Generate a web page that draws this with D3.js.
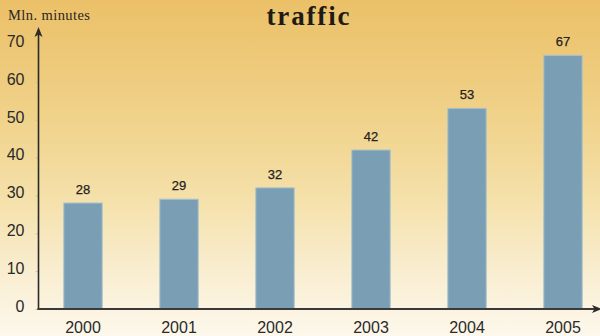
<!DOCTYPE html>
<html>
<head>
<meta charset="utf-8">
<script src="https://cdn.jsdelivr.net/npm/d3@7"></script>
<style>
  html, body { margin: 0; padding: 0; }
  svg { display: block; }
</style>
</head>
<body>
<svg id="chart" width="600" height="336"></svg>
<script>
// Traffic volume by year, in million minutes
const years = ["2000", "2001", "2002", "2003", "2004", "2005"];
const traffic = [28, 29, 32, 42, 53, 67];
const yTicks = [0, 10, 20, 30, 40, 50, 60, 70];
const titleText = "traffic";
const unitText = "Mln. minutes";

const W = 600, H = 336;
const svg = d3.select("#chart");

// Warm background fading from amber at the top to cream at the bottom
const defs = svg.append("defs");
const bg = defs.append("linearGradient")
  .attr("id", "bg").attr("x1", 0).attr("y1", 0).attr("x2", 0).attr("y2", 1);
[[0, "#ebc068"], [0.35, "#f0d28a"], [0.6, "#f5e1ab"], [0.8, "#f9edcf"], [1, "#fdf8ec"]]
  .forEach(([o, c]) => bg.append("stop").attr("offset", o).attr("stop-color", c));
svg.append("rect").attr("width", W).attr("height", H).attr("fill", "url(#bg)");

defs.append("marker")
  .attr("id", "arrow").attr("viewBox", "0 0 10 10").attr("refX", 5).attr("refY", 5)
  .attr("markerWidth", 10).attr("markerHeight", 10).attr("markerUnits", "userSpaceOnUse")
  .attr("orient", "auto")
  .append("path").attr("d", "M0,1 L10,5 L0,9 L2.5,5 Z").attr("fill", "#2b2b2b");

const axisX = 38.5, baseY = 309;

const x = d3.scaleBand().domain(years).range([35, 611])
  .paddingInner(0.6).paddingOuter(0.3);
const y = d3.scaleLinear().domain([0, 70]).range([baseY, 44]);

// Bars
svg.append("g").selectAll("rect").data(traffic).join("rect")
  .attr("x", (d, i) => x(years[i]))
  .attr("y", d => y(d))
  .attr("width", x.bandwidth())
  .attr("height", d => baseY - y(d))
  .attr("fill", "#7a9fb4")
  .attr("stroke", "#a9c3cb")
  .attr("stroke-width", 1);

// Value labels above bars
svg.append("g").selectAll("text").data(traffic).join("text")
  .attr("x", (d, i) => x(years[i]) + x.bandwidth() / 2)
  .attr("y", d => y(d) - 9)
  .attr("text-anchor", "middle")
  .attr("font-family", "Liberation Sans, Arial, sans-serif")
  .attr("font-size", 13)
  .attr("fill", "#222")
  .attr("stroke", "#222").attr("stroke-width", 0.25)
  .text(d => d);

// Y axis: small ticks and labels
const yAxis = d3.axisLeft(y).tickValues(yTicks).tickSize(3).tickPadding(11);
const gy = svg.append("g").attr("transform", `translate(${axisX},0)`).call(yAxis);
gy.select(".domain").remove();
gy.selectAll(".tick line").attr("stroke", "#cfc3a0").attr("stroke-width", 1);
gy.selectAll(".tick text")
  .attr("font-family", "Liberation Sans, Arial, sans-serif")
  .attr("font-size", 16)
  .attr("fill", "#2a2a2a")
  .attr("dy", "0.15em");

// X axis labels
const xAxis = d3.axisBottom(x).tickSize(0).tickPadding(13);
const gx = svg.append("g").attr("transform", `translate(0,${baseY})`).call(xAxis);
gx.select(".domain").remove();
gx.selectAll(".tick text")
  .attr("font-family", "Liberation Sans, Arial, sans-serif")
  .attr("font-size", 16)
  .attr("fill", "#2a2a2a");

// Axis lines with arrowheads
svg.append("line")
  .attr("x1", axisX).attr("y1", baseY + 1).attr("x2", axisX).attr("y2", 32)
  .attr("stroke", "#2b2b2b").attr("stroke-width", 1.6)
  .attr("marker-end", "url(#arrow)");
svg.append("line")
  .attr("x1", axisX - 1).attr("y1", baseY).attr("x2", 597).attr("y2", baseY)
  .attr("stroke", "#3a3a3a").attr("stroke-width", 2)
  .attr("marker-end", "url(#arrow)");

// Title and unit caption
svg.append("text")
  .attr("x", 308).attr("y", 25)
  .attr("text-anchor", "middle")
  .attr("font-family", "Liberation Serif, Times New Roman, serif")
  .attr("font-weight", "bold")
  .attr("font-size", 27)
  .attr("textLength", 83).attr("lengthAdjust", "spacing")
  .attr("fill", "#1e1a14")
  .text(titleText);

svg.append("text")
  .attr("x", 8).attr("y", 19.5)
  .attr("font-family", "Liberation Serif, Times New Roman, serif")
  .attr("font-size", 14.5)
  .attr("textLength", 82).attr("lengthAdjust", "spacing")
  .attr("fill", "#2a2620")
  .text(unitText);
</script>
</body>
</html>
